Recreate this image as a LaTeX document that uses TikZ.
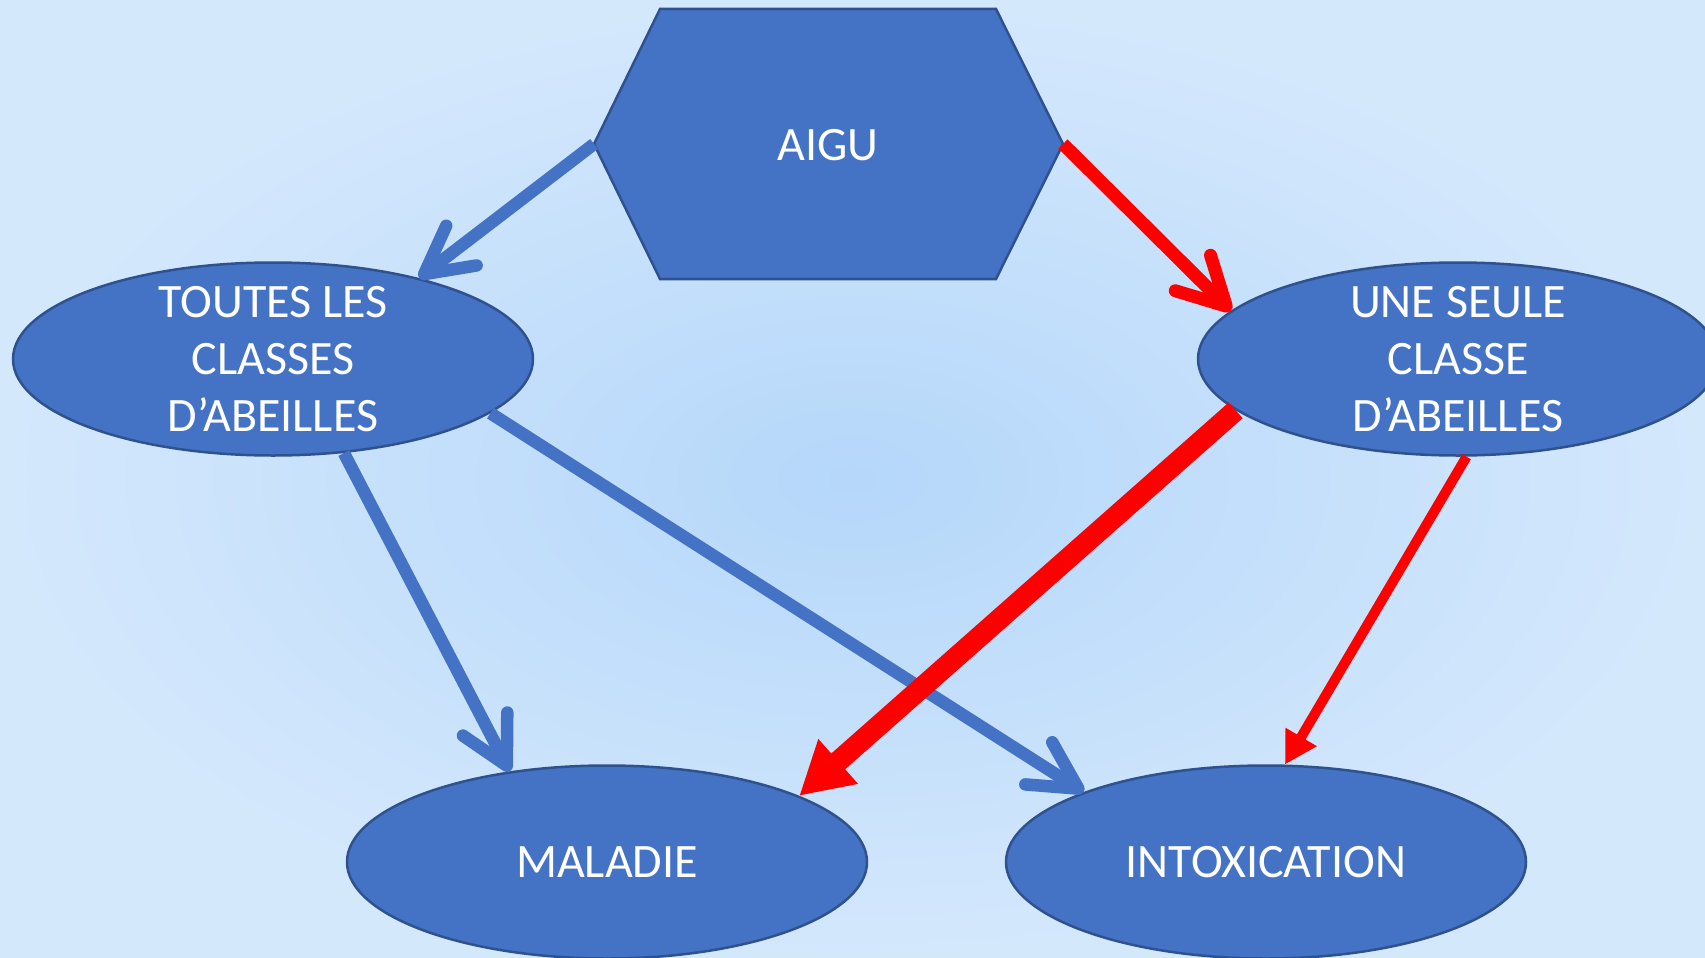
\documentclass[tikz,border=0pt]{standalone}
\usepackage{fontspec}
\setmainfont{Carlito}
\usetikzlibrary{arrows.meta,shapes.geometric}
\definecolor{boxblue}{HTML}{4472C4}
\definecolor{edgeblue}{HTML}{2F528F}
\definecolor{bglight}{HTML}{D4E8FC}
\definecolor{bgmid}{HTML}{B5D7FA}
\definecolor{arrred}{HTML}{FF0000}
\begin{document}
\begin{tikzpicture}[x=1pt,y=-1pt,
  ell/.style={ellipse, fill=boxblue, draw=edgeblue, line width=2.5pt,
    minimum width=520pt, minimum height=193pt, inner sep=0pt},
  lbl/.style={text=white, align=center, inner sep=0pt,
    font=\fontsize{48}{57}\selectfont},
  hexstyle/.style={fill=boxblue, draw=edgeblue, line width=2.5pt, line join=miter},
  bluearr/.style={draw=boxblue, line width=12.5pt,
    -{Straight Barb[round,length=47pt,width=50pt]}},
  redopen/.style={draw=arrred, line width=13pt,
    -{Straight Barb[round,length=47pt,width=50pt]}},
  redthick/.style={draw=arrred, line width=21pt,
    -{Triangle[length=52pt,width=56pt]}},
  redthin/.style={draw=arrred, line width=10pt,
    -{Triangle[length=32pt,width=34pt]}}
]
\clip (0,0) rectangle (1705,958);
\shade[inner color=bgmid, outer color=bglight] (0,0) rectangle (1705,958);

% hexagon
\coordinate (hL)  at (594,144);
\coordinate (hTL) at (660,9);
\coordinate (hTR) at (996,9);
\coordinate (hR)  at (1063,144);
\coordinate (hBR) at (996,279);
\coordinate (hBL) at (660,279);
\draw[hexstyle] (hL) -- (hTL) -- (hTR) -- (hR) -- (hBR) -- (hBL) -- cycle;
\node[lbl] (aigu) at (828,145) {AIGU};

% ellipses
\node[ell] (toutes) at (273,359) {};
\node[lbl] (toutesT) at (toutes.center) {TOUTES LES\\CLASSES\\D’ABEILLES};
\node[ell] (une) at (1458,359) {};
\node[lbl] (uneT) at (une.center) {UNE SEULE\\CLASSE\\D’ABEILLES};
\node[ell] (maladie) at (607,862) {};
\node[lbl] (maladieT) at (maladie.center) {MALADIE};
\node[ell] (intox) at (1266,862) {};
\node[lbl] (intoxT) at (intox.center) {INTOXICATION};

% connectors
\draw[bluearr] (hL) -- (toutes.29);
\draw[bluearr] (toutes.307) -- (maladie.137);
\draw[bluearr] (toutes.346) -- (intox.159);
\draw[redopen] (hR) -- (une.168);
\draw[redthick] (une.193) -- (maladie.19);
\draw[redthin] (une.275) -- (intox.79);
\end{tikzpicture}
\end{document}
